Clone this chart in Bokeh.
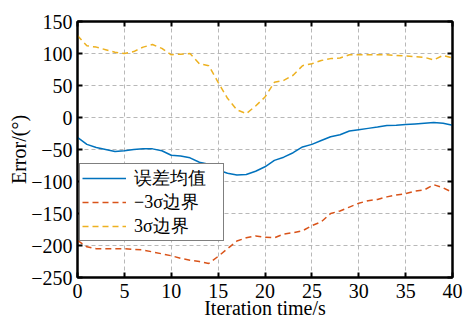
from bokeh.plotting import figure
from bokeh.models import Range1d, LinearAxis, FixedTicker, Legend, LegendItem
from bokeh.embed import file_html
from bokeh.resources import INLINE

# ---- data ----
t = list(range(41))
mean_err = [-31, -42, -47, -50, -53, -52, -50, -49, -49, -52,
            -59, -60, -63, -70, -73, -82, -87, -90, -89, -84,
            -77, -67, -62, -55, -46, -42, -36, -30, -27, -21,
            -19, -17, -15, -12.5, -12, -11, -10, -9, -8, -9, -12]
lower = [-192, -202, -205, -205, -205, -205, -206, -207, -210, -213,
         -216, -220, -223, -225, -228, -217, -205, -193, -188, -185,
         -187, -188, -182, -180, -177, -169, -163, -150, -146, -140,
         -134, -130, -128, -124, -121, -119, -115, -113, -105, -110, -117]
upper = [128, 112, 110, 106, 102, 100, 103, 110, 114, 108,
         98, 99, 100, 84, 81, 55, 30, 12, 6, 18,
         32, 55, 58, 66, 81, 84, 89, 92, 93, 98,
         98, 98, 98, 98, 97, 96, 95, 94, 90, 97, 93]

x_ticks = [0, 5, 10, 15, 20, 25, 30, 35, 40]
y_ticks = [-250, -200, -150, -100, -50, 0, 50, 100, 150]
y_tick_labels = ["\u2212250", "\u2212200", "\u2212150", "\u2212100", "\u221250",
                 "0", "50", "100", "150"]
x_label = "Iteration time/s"
y_label = "Error/(\u00b0)"
legend_labels = ["误差均值", "\u22123σ边界", "3σ边界"]

BLUE = "#0072BD"
RED = "#D95319"
ORANGE = "#EDB120"
FONT = "Liberation Serif"

p = figure(width=464, height=321, output_backend="svg", toolbar_location=None,
           x_range=Range1d(0, 40), y_range=Range1d(-250, 150),
           min_border_left=77, min_border_right=12, min_border_top=21,
           min_border_bottom=44)
p.background_fill_color = "white"
p.border_fill_color = "white"
p.outline_line_color = "black"
p.outline_line_width = 2

r_mean = p.line(t, mean_err, line_color=BLUE, line_width=1.5)
r_low = p.line(t, lower, line_color=RED, line_width=1.5, line_dash="6 4")
r_up = p.line(t, upper, line_color=ORANGE, line_width=1.5, line_dash="6 4")

for ax in p.xaxis + p.yaxis:
    ax.major_tick_in = 5
    ax.major_tick_out = 0
    ax.minor_tick_in = 0
    ax.minor_tick_out = 0
    ax.axis_line_color = "black"
    ax.axis_line_width = 2
    ax.major_tick_line_width = 2
    ax.major_label_text_font = FONT
    ax.major_label_text_font_size = "20px"
    ax.major_label_text_color = "black"
    ax.axis_label_text_font = FONT
    ax.axis_label_text_font_size = "20px"
    ax.axis_label_text_font_style = "normal"
    ax.axis_label_text_color = "black"

p.xaxis.ticker = FixedTicker(ticks=x_ticks)
p.yaxis.ticker = FixedTicker(ticks=y_ticks)
p.yaxis.major_label_overrides = {v: s for v, s in zip(y_ticks, y_tick_labels)}
p.xaxis.axis_label = x_label
p.yaxis.axis_label = y_label
p.xaxis.major_label_standoff = 6
p.xaxis.axis_label_standoff = -4
p.yaxis.major_label_standoff = 5
p.yaxis.axis_label_standoff = -2

for loc, ticks in (("above", x_ticks), ("right", y_ticks)):
    ax = LinearAxis(ticker=FixedTicker(ticks=ticks))
    ax.major_tick_in = 5
    ax.major_tick_out = 0
    ax.minor_tick_in = 0
    ax.minor_tick_out = 0
    ax.major_tick_line_width = 2
    ax.axis_line_width = 2
    ax.major_label_text_font_size = "1px"
    ax.major_label_text_color = None
    ax.major_label_standoff = 0
    p.add_layout(ax, loc)

p.xgrid.ticker = FixedTicker(ticks=x_ticks)
p.ygrid.ticker = FixedTicker(ticks=y_ticks)
for g in (p.xgrid[0], p.ygrid[0]):
    g.grid_line_color = "#b8b8b8"
    g.grid_line_dash = "4 3"
    g.grid_line_width = 1

legend = Legend(items=[LegendItem(label=legend_labels[0], renderers=[r_mean]),
                       LegendItem(label=legend_labels[1], renderers=[r_low]),
                       LegendItem(label=legend_labels[2], renderers=[r_up])],
                location=(2, 36))
legend.label_text_font = FONT
legend.label_text_font_size = "18px"
legend.label_text_color = "black"
legend.glyph_width = 44
legend.glyph_height = 18
legend.label_height = 18
legend.label_width = 87
legend.label_standoff = 8
legend.padding = 2
legend.spacing = 0
legend.margin = 0
legend.border_line_color = "black"
legend.border_line_width = 1.5
legend.background_fill_color = "white"
legend.background_fill_alpha = 1
p.add_layout(legend, "center")

open("out.html", "w").write(file_html(p, INLINE))
